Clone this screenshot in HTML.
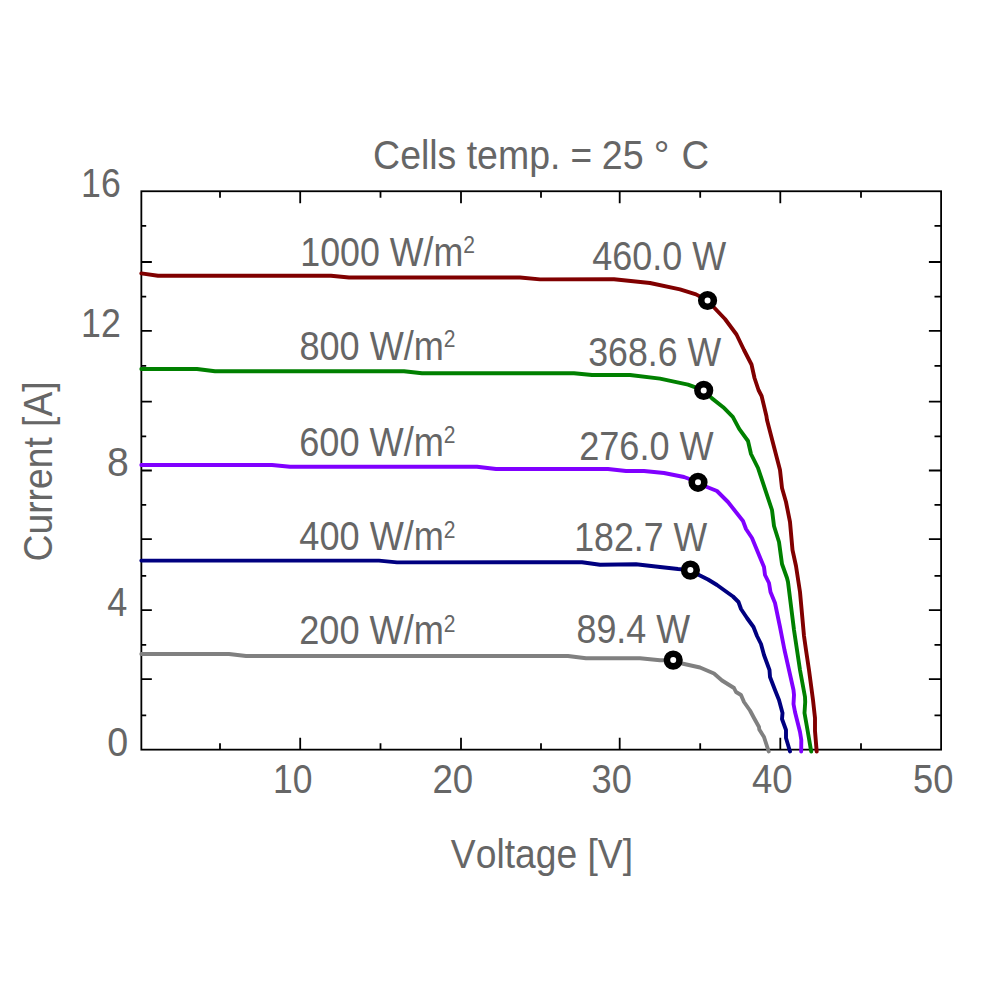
<!DOCTYPE html>
<html><head><meta charset="utf-8"><title>I-V curves</title>
<style>
html,body{margin:0;padding:0;background:#fff}
svg{display:block}
text{font-family:"Liberation Sans",sans-serif;font-kerning:none;white-space:pre}
</style></head>
<body>
<svg width="1000" height="1000" viewBox="0 0 1000 1000">
<rect width="1000" height="1000" fill="#fff"/>
<rect x="141.35" y="191.25" width="799.75" height="558.40" fill="none" stroke="#000" stroke-width="1.8"/>
<path d="M220.00 749.65v-6.4M220.00 191.25v6.4M300.20 749.65v-12.0M300.20 191.25v12.0M380.50 749.65v-6.4M380.50 191.25v6.4M461.00 749.65v-12.0M461.00 191.25v12.0M541.00 749.65v-6.4M541.00 191.25v6.4M619.70 749.65v-12.0M619.70 191.25v12.0M700.20 749.65v-6.4M700.20 191.25v6.4M780.30 749.65v-12.0M780.30 191.25v12.0M861.00 749.65v-6.4M861.00 191.25v6.4M141.35 715.40h4.85M941.1 715.40h-6.6M141.35 679.20h10.5M941.1 679.20h-12.2M141.35 644.80h4.85M941.1 644.80h-6.6M141.35 610.20h10.5M941.1 610.20h-12.2M141.35 575.90h4.85M941.1 575.90h-6.6M141.35 539.10h10.5M941.1 539.10h-12.2M141.35 504.90h4.85M941.1 504.90h-6.6M141.35 470.50h10.5M941.1 470.50h-12.2M141.35 436.40h4.85M941.1 436.40h-6.6M141.35 401.70h10.5M941.1 401.70h-12.2M141.35 365.80h4.85M941.1 365.80h-6.6M141.35 330.80h10.5M941.1 330.80h-12.2M141.35 296.60h4.85M941.1 296.60h-6.6M141.35 262.00h10.5M941.1 262.00h-12.2M141.35 225.80h4.85M941.1 225.80h-6.6" fill="none" stroke="#000" stroke-width="1.8"/>
<path d="M141.3 654.0L229.0 654.0L246.0 656.0L568.0 656.0L586.0 658.3L640.0 658.2L660.0 660.3L673.2 660.2L682.0 663.5L700.0 667.5L714.0 673.5L722.0 680.5L734.0 688.0L736.0 692.0L741.0 695.0L744.0 702.0L750.0 710.5L754.0 718.0L759.0 727.0L759.3 729.5L764.0 737.0L768.7 751.5" fill="none" stroke="#808080" stroke-width="3.9" stroke-linejoin="round" stroke-linecap="round"/>
<path d="M141.3 560.6L379.0 560.6L397.0 562.4L582.0 562.2L600.0 564.8L636.0 564.2L660.0 567.0L678.0 569.0L690.4 570.1L699.0 575.0L708.0 579.5L717.0 585.0L726.0 591.5L733.0 596.5L738.5 602.0L741.0 609.0L747.0 618.0L753.5 627.0L757.0 636.0L761.0 644.0L764.0 655.0L769.5 670.0L770.0 677.0L775.0 690.0L779.0 700.0L782.5 713.0L782.0 719.0L786.0 730.0L786.0 738.0L790.0 751.5" fill="none" stroke="#000080" stroke-width="3.9" stroke-linejoin="round" stroke-linecap="round"/>
<path d="M141.3 465.0L272.0 465.0L290.0 466.7L477.0 466.7L496.0 469.0L608.0 469.0L626.0 471.0L644.0 471.0L664.0 473.0L684.0 477.0L698.0 482.2L707.0 487.0L717.0 491.0L728.0 502.0L743.0 521.0L746.0 529.0L752.0 538.0L759.0 555.0L764.0 567.0L765.0 575.0L769.0 583.0L770.5 592.0L775.0 603.0L780.0 627.0L784.5 650.0L789.0 670.0L793.5 690.0L794.0 695.0L793.5 704.0L795.0 712.0L800.0 732.0L801.3 740.0L801.2 751.5" fill="none" stroke="#8000ff" stroke-width="3.9" stroke-linejoin="round" stroke-linecap="round"/>
<path d="M141.3 369.0L197.0 369.0L215.0 371.2L404.0 371.2L422.0 373.2L574.0 373.2L592.0 375.0L630.0 375.0L660.0 378.6L688.0 384.6L703.7 390.4L712.0 398.4L723.2 407.2L732.8 416.8L739.2 428.8L748.0 441.0L751.0 454.0L758.0 468.0L772.0 510.0L774.0 526.0L779.0 542.0L782.0 564.0L787.0 578.0L788.0 582.0L794.0 630.0L797.0 650.0L800.0 670.0L805.0 697.0L805.2 702.0L804.5 713.0L807.5 730.0L811.2 751.5" fill="none" stroke="#008000" stroke-width="3.9" stroke-linejoin="round" stroke-linecap="round"/>
<path d="M141.3 273.4L158.0 275.8L331.0 275.8L349.0 277.5L520.0 277.5L540.0 279.4L614.0 279.2L650.0 283.0L680.0 289.4L696.0 294.4L707.5 300.5L715.0 308.5L725.0 319.0L736.5 334.5L744.0 350.0L751.5 364.5L754.5 378.0L758.5 390.0L761.6 396.0L766.4 416.0L767.0 420.0L780.0 470.0L782.0 488.0L786.0 502.0L790.0 522.0L792.5 550.0L796.0 566.0L800.0 592.0L804.0 636.0L806.0 650.0L809.0 670.0L813.0 700.0L815.0 718.0L815.0 731.0L816.7 751.5" fill="none" stroke="#800000" stroke-width="3.9" stroke-linejoin="round" stroke-linecap="round"/>
<circle cx="707.55" cy="300.5" r="6.3" fill="#fff" stroke="#000" stroke-width="6.6"/>
<circle cx="703.7" cy="390.4" r="6.3" fill="#fff" stroke="#000" stroke-width="6.6"/>
<circle cx="698" cy="482.3" r="6.3" fill="#fff" stroke="#000" stroke-width="6.6"/>
<circle cx="690.4" cy="570.1" r="6.3" fill="#fff" stroke="#000" stroke-width="6.6"/>
<circle cx="673.2" cy="660.1" r="6.3" fill="#fff" stroke="#000" stroke-width="6.6"/>
<g xml:space="preserve">
<text transform="translate(373.10 169.40) scale(0.9025 1)" font-size="41.5" fill="#666666">Cells temp.</text>
<text transform="translate(570.39 169.40) scale(0.8928 1)" font-size="41.5" fill="#666666">=</text>
<text transform="translate(601.71 169.40) scale(0.9071 1)" font-size="41.5" fill="#666666">25</text>
<text transform="translate(653.66 169.40) scale(0.9457 1)" font-size="41.5" fill="#666666">°</text>
<text transform="translate(681.46 169.40) scale(0.9208 1)" font-size="41.5" fill="#666666">C</text>
<text transform="translate(81.08 197.20) scale(0.8597 1)" font-size="41.5" fill="#666666">16</text>
<text transform="translate(81.08 336.70) scale(0.8604 1)" font-size="41.5" fill="#666666">12</text>
<text transform="translate(107.10 476.40) scale(0.9449 1)" font-size="41.5" fill="#666666">8</text>
<text transform="translate(107.17 616.10) scale(0.8703 1)" font-size="41.5" fill="#666666">4</text>
<text transform="translate(107.33 755.55) scale(0.9073 1)" font-size="41.5" fill="#666666">0</text>
<text transform="translate(273.10 792.90) scale(0.8555 1)" font-size="41.5" fill="#666666">10</text>
<text transform="translate(432.46 792.90) scale(0.8833 1)" font-size="41.5" fill="#666666">20</text>
<text transform="translate(591.62 792.90) scale(0.8729 1)" font-size="41.5" fill="#666666">30</text>
<text transform="translate(751.96 792.90) scale(0.8810 1)" font-size="41.5" fill="#666666">40</text>
<text transform="translate(913.05 792.90) scale(0.8746 1)" font-size="41.5" fill="#666666">50</text>
<text transform="translate(450.84 867.60) scale(0.8975 1)" font-size="41.5" fill="#666666">Voltage [V]</text>
<text transform="translate(52.20 561.39) rotate(-90) scale(0.9310 1)" font-size="40.0" fill="#666666">Current [A]</text>
<text transform="translate(300.27 265.60) scale(0.8623 1)" font-size="41.5" fill="#666666">1000 W/m</text>
<text transform="translate(463.14 253.00) scale(0.9005 1)" font-size="23.4" fill="#666666">2</text>
<text transform="translate(299.43 359.60) scale(0.8706 1)" font-size="41.5" fill="#666666">800 W/m</text>
<text transform="translate(443.74 347.00) scale(0.9005 1)" font-size="23.4" fill="#666666">2</text>
<text transform="translate(299.16 455.60) scale(0.8722 1)" font-size="41.5" fill="#666666">600 W/m</text>
<text transform="translate(443.74 443.00) scale(0.9005 1)" font-size="23.4" fill="#666666">2</text>
<text transform="translate(299.37 550.40) scale(0.8709 1)" font-size="41.5" fill="#666666">400 W/m</text>
<text transform="translate(443.74 537.80) scale(0.9005 1)" font-size="23.4" fill="#666666">2</text>
<text transform="translate(299.18 644.40) scale(0.8721 1)" font-size="41.5" fill="#666666">200 W/m</text>
<text transform="translate(443.74 631.80) scale(0.9005 1)" font-size="23.4" fill="#666666">2</text>
<text transform="translate(592.17 270.00) scale(0.8667 1)" font-size="41.5" fill="#666666">460.0 W</text>
<text transform="translate(588.24 366.40) scale(0.8598 1)" font-size="41.5" fill="#666666">368.6 W</text>
<text transform="translate(579.18 460.40) scale(0.8705 1)" font-size="41.5" fill="#666666">276.0 W</text>
<text transform="translate(574.28 551.40) scale(0.8595 1)" font-size="41.5" fill="#666666">182.7 W</text>
<text transform="translate(576.44 643.40) scale(0.8647 1)" font-size="41.5" fill="#666666">89.4 W</text>
</g>
</svg>
</body></html>
